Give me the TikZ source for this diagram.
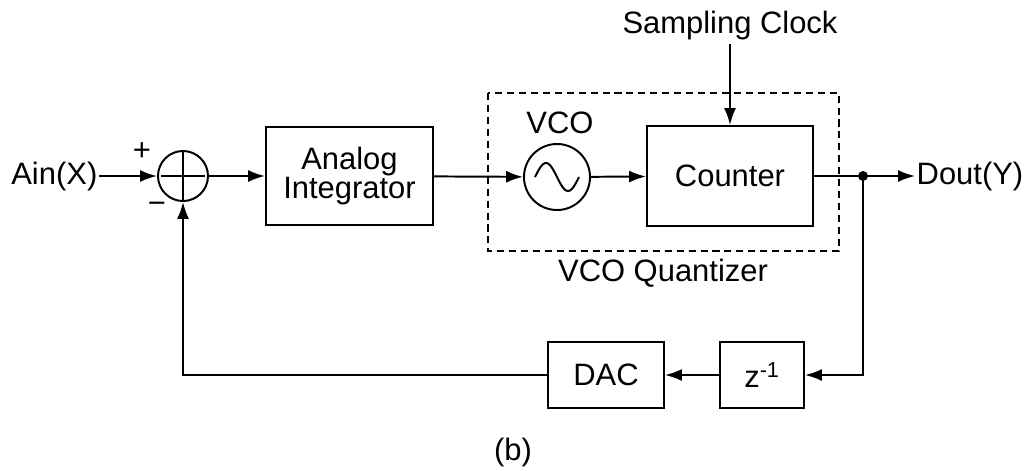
\documentclass[tikz,border=0pt]{standalone}
\usepackage{fontspec}
\setmainfont{Liberation Sans}
\usepackage{tikz}
\usetikzlibrary{arrows.meta}

\tikzset{
  block/.style={draw, line width=1.4pt, align=center, inner sep=2pt},
  sumnode/.style={draw, circle, line width=1.4pt, minimum size=1.25cm, inner sep=0pt},
  sig/.style={line width=1.4pt, -{Latex[length=12pt,width=8.5pt]}},
  wire/.style={line width=1.4pt},
}

\begin{document}
\begin{tikzpicture}[x=0.025cm, y=-0.025cm, font=\fontsize{22}{20}\selectfont]
    \useasboundingbox (0,0) rectangle (1030,470);

    % forward path
    \node[anchor=east, inner sep=1pt] (ain) at (99,176) {Ain(X)};
    \node[sumnode] (sum) at (183,176) {};
    \draw[wire, shorten <=3pt, shorten >=3pt] (sum.north) -- (sum.south) (sum.west) -- (sum.east);
    \node (plus) at (142,152) {+};
    \node (minus) at (157,208) {−};
    \node[block, minimum width=4.175cm, minimum height=2.45cm] (integ) at (349.5,176) {Analog\\Integrator};

    % VCO quantizer
    \draw[wire, dashed, dash pattern=on 5pt off 3.5pt] (488,93) rectangle (839,251);
    \node (quant) at (663,273) {VCO Quantizer};
    \node[sumnode, minimum size=1.65cm] (vco) at (557,177) {};
    \draw[wire, shift={(vco.center)}] plot[domain=-22:22, samples=41, smooth] (\x,{14*sin(\x*180/22)});
    \node (vcolabel) at (560,123) {VCO};
    \node[block, minimum width=4.15cm, minimum height=2.5cm] (counter) at (730,176) {Counter};
    \node (clk) at (730,25) {Sampling Clock};

    % output
    \coordinate (split) at (863,176);
    \node[anchor=west, inner sep=1pt] (dout) at (915,176) {Dout(Y)};

    % feedback path
    \node[block, minimum width=2.1cm, minimum height=1.65cm] (zdel) at (762,375) {z\textsuperscript{-1}};
    \node[block, minimum width=2.9cm, minimum height=1.65cm] (dac) at (606,375) {DAC};

    \node (label) at (513,452) {(b)};

    % connections
    \draw[sig] (ain) -- (sum);
    \draw[sig] (sum) -- (integ);
    \draw[sig] (integ) -- (vco);
    \draw[sig] (vco) -- (counter);
    \draw[sig] (clk) -- (counter);
    \draw[wire] (counter) -- (split);
    \fill (split) circle (5);
    \draw[sig] (split) -- (dout);
    \draw[sig] (split) |- (zdel);
    \draw[sig] (zdel) -- (dac);
    \draw[sig] (dac) -| (sum);
\end{tikzpicture}
\end{document}
